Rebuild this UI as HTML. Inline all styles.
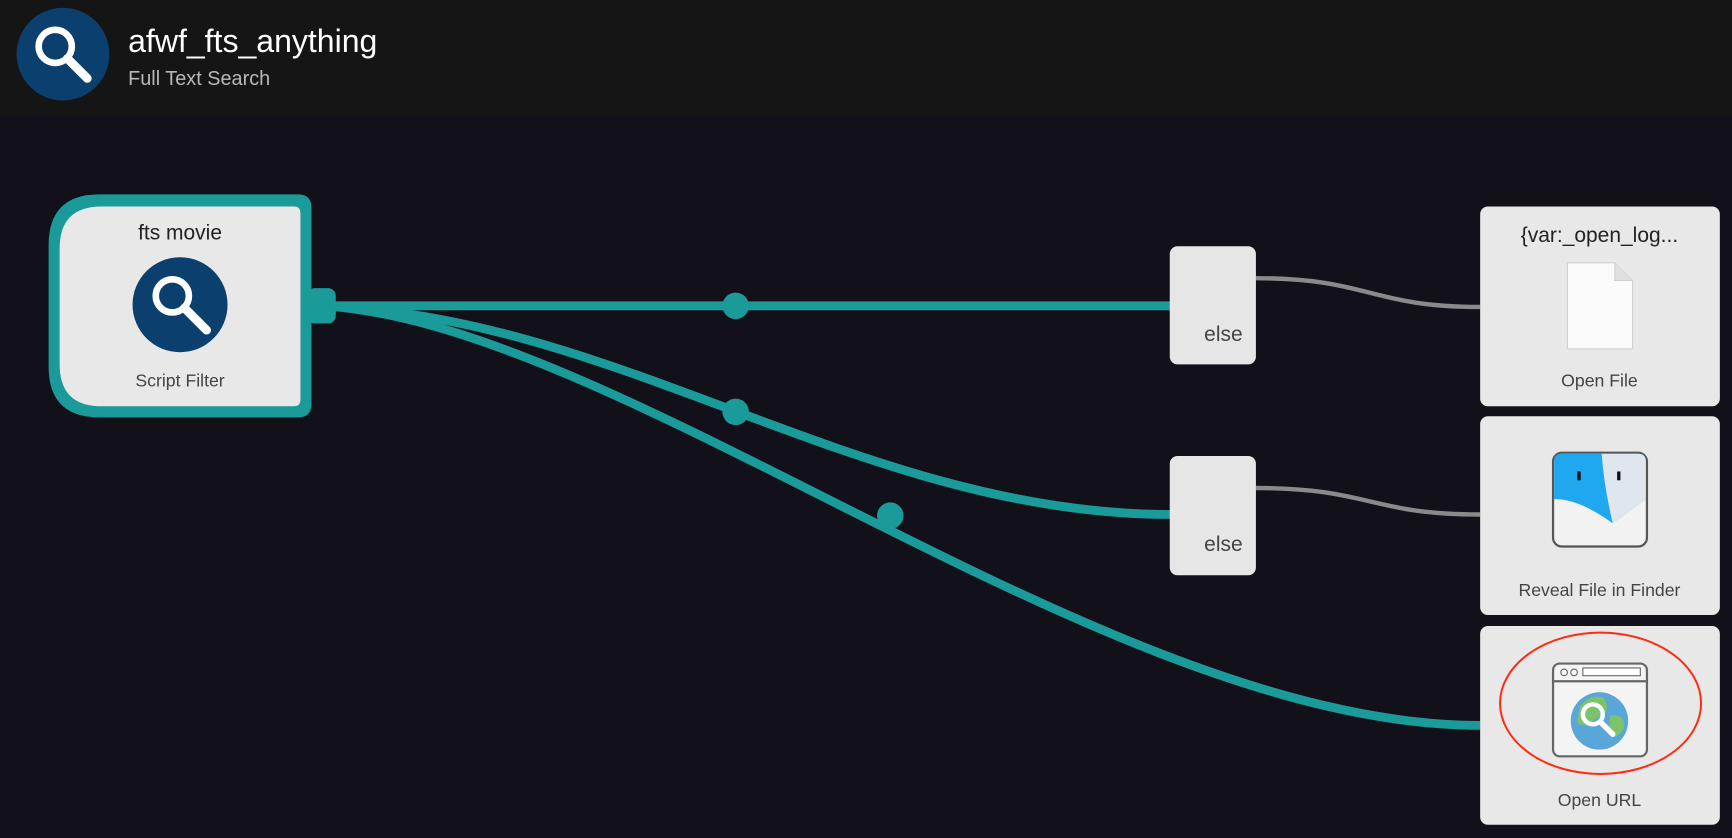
<!DOCTYPE html>
<html><head><meta charset="utf-8"><style>
html,body{margin:0;padding:0;width:1732px;height:838px;overflow:hidden;background:#12111a}
svg{display:block}
text{font-family:"Liberation Sans",sans-serif}
</style></head><body>
<svg width="1732" height="838" viewBox="0 0 1568 759" preserveAspectRatio="none" xmlns="http://www.w3.org/2000/svg">
<rect x="0" y="0" width="1568" height="759" fill="#12111a"/>
<rect x="0" y="0" width="1568" height="105" fill="#151515"/>
<circle cx="57" cy="49" r="42" fill="#0b3f6e"/>
<circle cx="50" cy="42" r="15" fill="none" stroke="#fff" stroke-width="6"/>
<line x1="61" y1="53" x2="79" y2="71" stroke="#fff" stroke-width="8" stroke-linecap="round"/>
<text x="116" y="47" fill="#fff" font-size="29">afwf_fts_anything</text>
<text x="116" y="77" fill="#b8b8b8" font-size="18">Full Text Search</text>

<!-- connectors -->
<g fill="none" stroke="#1a9a98" stroke-width="8">
<path d="M290 277 L1060 277"/>
<path d="M290 277 C560 285 780 466 1060 466"/>
<path d="M290 277 C560 290 1000 657 1340 657"/>
</g>
<g fill="#1a9a98">
<circle cx="666" cy="277" r="12"/>
<circle cx="666" cy="373" r="12"/>
<circle cx="806" cy="467" r="12"/>
<rect x="278" y="261" width="26" height="32" rx="7"/>
</g>
<g fill="none" stroke="#8a8a8a" stroke-width="4">
<path d="M1137 252 C1240 252 1240 278 1340 278"/>
<path d="M1137 442 C1240 442 1240 466 1340 466"/>
</g>

<!-- script filter -->
<path d="M90 176 H270 Q282 176 282 188 V366 Q282 378 270 378 H90 Q44 378 44 332 V222 Q44 176 90 176 Z" fill="#1a9a98"/>
<path d="M92 187 H266 Q272 187 272 193 V362 Q272 368 266 368 H92 Q54 368 54 330 V225 Q54 187 92 187 Z" fill="#e8e8e8"/>
<text x="163" y="217" text-anchor="middle" font-size="19" fill="#222">fts movie</text>
<circle cx="163" cy="276" r="43" fill="#0b3f6e"/>
<circle cx="156" cy="268" r="15" fill="none" stroke="#fff" stroke-width="6"/>
<line x1="167" y1="279" x2="187" y2="299" stroke="#fff" stroke-width="8" stroke-linecap="round"/>
<text x="163" y="350" text-anchor="middle" font-size="16" fill="#444">Script Filter</text>

<!-- else nodes -->
<rect x="1059" y="223" width="78" height="107" rx="7" fill="#e6e6e6"/>
<text x="1125" y="309" text-anchor="end" font-size="19" fill="#444">else</text>
<rect x="1059" y="413" width="78" height="108" rx="7" fill="#e6e6e6"/>
<text x="1125" y="499" text-anchor="end" font-size="19" fill="#444">else</text>

<!-- right nodes -->
<rect x="1340" y="187" width="217" height="181" rx="7" fill="#e8e8e8"/>
<text x="1448" y="219" text-anchor="middle" font-size="19" fill="#222">{var:_open_log...</text>
<path d="M1419 238 H1462 L1478 254 V316 H1419 Z" fill="#fafafa" stroke="#cfcfcf"/>
<path d="M1462 238 V254 H1478" fill="#e0e0e0" stroke="#cfcfcf"/>
<text x="1448" y="350" text-anchor="middle" font-size="16" fill="#444">Open File</text>

<rect x="1340" y="377" width="217" height="180" rx="7" fill="#e8e8e8"/>
<rect x="1406" y="410" width="85" height="85" rx="8" fill="#f2f2f2" stroke="#555" stroke-width="2"/>
<path d="M1407 418 Q1407 411 1414 411 H1483 Q1490 411 1490 418 V452 L1460 474 Q1430 452 1407 452 Z" fill="#1fa8f0"/>
<path d="M1450 411 H1483 Q1490 411 1490 418 V452 L1460 474 Q1452 440 1450 411 Z" fill="#dfe6ee"/>
<rect x="1428" y="427" width="3" height="8" fill="#111"/>
<rect x="1464" y="427" width="3" height="8" fill="#111"/>
<text x="1448" y="540" text-anchor="middle" font-size="16" fill="#444">Reveal File in Finder</text>

<rect x="1340" y="567" width="217" height="180" rx="7" fill="#e8e8e8"/>
<rect x="1406" y="601" width="85" height="84" rx="6" fill="#f4f4f4" stroke="#666" stroke-width="2"/>
<line x1="1406" y1="617" x2="1491" y2="617" stroke="#666" stroke-width="2"/>
<circle cx="1416" cy="609" r="3" fill="none" stroke="#666"/>
<circle cx="1425" cy="609" r="3" fill="none" stroke="#666"/>
<rect x="1433" y="605" width="52" height="7" fill="#fff" stroke="#666"/>
<circle cx="1448" cy="653" r="26" fill="#5aa6d8"/>
<path d="M1430 640 Q1440 628 1452 632 Q1460 645 1446 650 Q1436 660 1428 655 Z" fill="#7bc46c"/>
<path d="M1458 648 Q1472 646 1470 660 Q1462 672 1456 664 Z" fill="#7bc46c"/>
<circle cx="1442" cy="647" r="9" fill="none" stroke="#fff" stroke-width="4"/>
<line x1="1449" y1="654" x2="1460" y2="665" stroke="#fff" stroke-width="5" stroke-linecap="round"/>
<text x="1448" y="730" text-anchor="middle" font-size="16" fill="#444">Open URL</text>
<ellipse cx="1449" cy="637" rx="91" ry="64" fill="none" stroke="#ff2a10" stroke-width="1.8"/>
</svg>
</body></html>
